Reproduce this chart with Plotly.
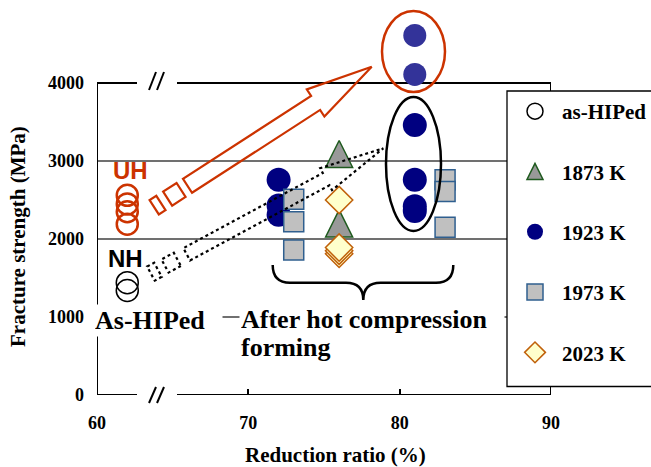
import plotly.graph_objects as go
import math

# ---------------- data ----------------
nh_x = [62, 62]
nh_y = [1440, 1340]
uh_x = [62, 62, 62, 62]
uh_y = [2560, 2450, 2350, 2190]
k1873_x = [76, 76]
k1873_y = [3090, 2200]
k1923_x = [72, 72, 72, 81, 81, 81, 81]
k1923_y = [2760, 2430, 2310, 3460, 2760, 2420, 2360]
k1923_top_x = [81, 81]
k1923_top_y = [4610, 4110]
k1973_x = [73, 73, 73, 83, 83, 83]
k1973_y = [2510, 2220, 1860, 2760, 2610, 2150]
k2023_x = [76, 76, 76, 76]
k2023_y = [1810, 1850, 1890, 2500]
x_ticks = [60, 70, 80, 90]
y_ticks = [0, 1000, 2000, 3000, 4000]
grid_y = [1000, 2000, 3000]
legend_names = ["as-HIPed", "1873 K", "1923 K", "1973 K", "2023 K"]

# ---------------- geometry helpers ----------------
# decoration positions are given in reference-picture pixels
W, H = 651, 467
RX0, RX1 = 97, 551      # plot area x (px)
RY_TOP, RY0 = 5, 395    # plot area y (px)
ML = RX0
MR = W - RX1
MT = RY_TOP
MB = H - RY0
XR = [60, 90]
YR = [0, (RY0 - RY_TOP) / 78.0 * 1000]

SERIF = "Liberation Serif, Times New Roman, serif"
SANS = "Liberation Sans, Arial, sans-serif"
ORANGE = "#CC3300"


def pp(px, py):
    return ((px - RX0) / (RX1 - RX0), (RY0 - py) / (RY0 - RY_TOP))


def dx(px):
    return XR[0] + (px - RX0) / (RX1 - RX0) * (XR[1] - XR[0])


def path_from_px(points, close=True):
    parts = []
    for i, (a, b) in enumerate(points):
        x, y = pp(a, b)
        parts.append(("M" if i == 0 else "L") + f"{x:.5f},{y:.5f}")
    return " ".join(parts) + (" Z" if close else "")


def block_arrow(S, T, w, head_len, W_):
    vx, vy = T[0] - S[0], T[1] - S[1]
    L = math.hypot(vx, vy)
    ux, uy = vx / L, vy / L
    nx, ny = -uy, ux
    Bx, By = T[0] - head_len * ux, T[1] - head_len * uy
    pts = [
        (S[0] + w * nx, S[1] + w * ny),
        (Bx + w * nx, By + w * ny),
        (Bx + W_ * nx, By + W_ * ny),
        T,
        (Bx - W_ * nx, By - W_ * ny),
        (Bx - w * nx, By - w * ny),
        (S[0] - w * nx, S[1] - w * ny),
    ]
    return pts, (ux, uy), (nx, ny)


def rect_along(T, u, n, d1, d2, hw):
    pts = []
    for d, s in [(d1, 1), (d2, 1), (d2, -1), (d1, -1)]:
        cx, cy = T[0] - d * u[0], T[1] - d * u[1]
        pts.append((cx + s * hw * n[0], cy + s * hw * n[1]))
    return pts


fig = go.Figure()

# ---------------- traces ----------------
TRI_FILL, TRI_LINE = "#999999", "#1E5A1E"
fig.add_trace(go.Scatter(
    x=nh_x, y=nh_y, mode="markers", name=legend_names[0], legendgroup="a",
    marker=dict(symbol="circle-open", size=22, color="black", line=dict(width=1.5))))
fig.add_trace(go.Scatter(
    x=uh_x, y=uh_y, mode="markers", showlegend=False,
    marker=dict(symbol="circle-open", size=21, color=ORANGE, line=dict(width=2.5))))
# 1873 K triangles (upward, centred) in the plot
fig.add_trace(go.Scatter(
    x=k1873_x, y=k1873_y, mode="markers", showlegend=False, legendgroup="b",
    marker=dict(symbol="arrow-down", angle=180, standoff=13.5, size=27, color=TRI_FILL,
                line=dict(width=1.5, color=TRI_LINE))))
# same series on a hidden axis pair so that only its legend symbol shows
fig.add_trace(go.Scatter(
    x=k1873_x, y=k1873_y, mode="markers", name=legend_names[1], legendgroup="b",
    xaxis="x2", yaxis="y2", hoverinfo="skip",
    marker=dict(symbol="arrow-up", standoff=8, size=16, color=TRI_FILL,
                line=dict(width=1.5, color=TRI_LINE))))
fig.add_trace(go.Scatter(
    x=k1923_x, y=k1923_y, mode="markers", name=legend_names[2], legendgroup="c",
    marker=dict(symbol="circle", size=24, color="#000080", line=dict(width=0))))
fig.add_trace(go.Scatter(
    x=k1923_top_x, y=k1923_top_y, mode="markers", showlegend=False,
    marker=dict(symbol="circle", size=23, color="#333399", line=dict(width=0))))
fig.add_trace(go.Scatter(
    x=k1973_x, y=k1973_y, mode="markers", name=legend_names[3], legendgroup="d",
    marker=dict(symbol="square", size=20, color="#C0C0C0", line=dict(width=1.5, color="#2F5F8F"))))
fig.add_trace(go.Scatter(
    x=k2023_x, y=k2023_y, mode="markers", name=legend_names[4], legendgroup="e",
    marker=dict(symbol="diamond", size=21, color="#FFFFCC", line=dict(width=1.5, color="#C0600A"))))

shapes = []
# gridlines
for gy in grid_y:
    shapes.append(dict(type="line", xref="x", yref="y", x0=XR[0], x1=XR[1], y0=gy, y1=gy,
                       line=dict(color="#404040", width=1.3), layer="below"))
# frame with breaks
FR = dict(color="black", width=2)
shapes.append(dict(type="line", xref="x", yref="y", x0=60, x1=60, y0=0, y1=4000, line=FR, layer="below"))
shapes.append(dict(type="line", xref="x", yref="y", x0=90, x1=90, y0=0, y1=4000, line=FR, layer="below"))
for yy in (0, 4000):
    shapes.append(dict(type="line", xref="x", yref="y", x0=60, x1=dx(137), y0=yy, y1=yy, line=FR, layer="below"))
    shapes.append(dict(type="line", xref="x", yref="y", x0=dx(177), x1=90, y0=yy, y1=yy, line=FR, layer="below"))
# break slashes
for (ytop, ybot) in [(72, 90), (387, 403)]:
    for xo in (149, 157):
        a = pp(xo, ybot)
        b = pp(xo + 7, ytop)
        shapes.append(dict(type="line", xref="paper", yref="paper", x0=a[0], y0=a[1], x1=b[0], y1=b[1],
                           line=dict(color="black", width=2)))

# orange block arrow
T1 = (371.7, 66.7)
S1 = (187.5, 185.8)
pts, u, n = block_arrow(S1, T1, 8.3, 66.8, 16.2)
OL = dict(color=ORANGE, width=2.2)
shapes.append(dict(type="path", xref="paper", yref="paper", path=path_from_px(pts), line=OL, layer="above"))
shapes.append(dict(type="path", xref="paper", yref="paper", path=path_from_px(rect_along(T1, u, n, 227, 243, 8.3)), line=OL, layer="above"))
shapes.append(dict(type="path", xref="paper", yref="paper", path=path_from_px(rect_along(T1, u, n, 251, 259, 8.5)), line=OL, layer="above"))

# dotted block arrow
T2 = (383.3, 148.3)
S2 = (186.7, 254.3)
pts, u, n = block_arrow(S2, T2, 7.0, 65, 12.5)
DL = dict(color="black", width=2.2, dash="dot")
shapes.append(dict(type="path", xref="paper", yref="paper", path=path_from_px(pts), line=DL, layer="above"))
shapes.append(dict(type="path", xref="paper", yref="paper", path=path_from_px(rect_along(T2, u, n, 234, 248, 7.5)), line=DL, layer="above"))
shapes.append(dict(type="path", xref="paper", yref="paper", path=path_from_px(rect_along(T2, u, n, 256, 264, 8)), line=DL, layer="above"))

# ellipses
e1a, e1b = pp(382, 92), pp(445, 11)
shapes.append(dict(type="circle", xref="paper", yref="paper", x0=e1a[0], y0=e1a[1], x1=e1b[0], y1=e1b[1],
                   line=dict(color=ORANGE, width=2.5), layer="above"))
e2a, e2b = pp(386, 231), pp(441, 97)
shapes.append(dict(type="circle", xref="paper", yref="paper", x0=e2a[0], y0=e2a[1], x1=e2b[0], y1=e2b[1],
                   line=dict(color="black", width=2.5), layer="above"))

# brace
def P(a, b):
    x, y = pp(a, b)
    return f"{x:.5f},{y:.5f}"

brace = (f"M{P(272.7,265)} Q{P(272.7,282.7)} {P(290,282.7)} L{P(346,282.7)} "
         f"Q{P(363.3,282.7)} {P(363.3,300)} Q{P(363.3,282.7)} {P(380.6,282.7)} "
         f"L{P(436,282.7)} Q{P(453.3,282.7)} {P(453.3,265)}")
shapes.append(dict(type="path", xref="paper", yref="paper", path=brace,
                   line=dict(color="black", width=2.5), layer="above"))

# legend box
lb0, lb1 = pp(507, 386.5), pp(662, 91)
shapes.append(dict(type="rect", xref="paper", yref="paper", x0=lb0[0], y0=lb0[1], x1=lb1[0], y1=lb1[1],
                   fillcolor="white", line=dict(color="black", width=1.3), layer="above"))

# ---------------- annotations ----------------
ann = []

def add_text(text, px, py, size, family=SERIF, color="black", xanchor="center", bg=None, width=None,
             angle=0, align="center"):
    x, y = pp(px, py)
    d = dict(text=text, x=x, y=y, xref="paper", yref="paper", showarrow=False,
             font=dict(family=family, size=size, color=color, weight="bold"),
             xanchor=xanchor, yanchor="middle", textangle=angle, align=align, borderpad=1)
    if bg:
        d["bgcolor"] = bg
    if width:
        d["width"] = width
    ann.append(d)

add_text("UH", 130.5, 170, 24, family=SANS, color=ORANGE)
add_text("NH", 125.8, 258.5, 24, family=SANS)
add_text("As-HIPed", 93, 320, 26, xanchor="left", bg="white", width=126, align="left")
add_text("After hot compression", 239, 319, 26, xanchor="left", bg="white", width=262, align="left")
add_text("forming", 239, 347, 26, xanchor="left", align="left")
add_text("Reduction ratio (%)", 335, 455, 21)
add_text("Fracture strength (MPa)", 18, 237, 21, angle=-90)

lx, ly = pp(508, 91)

fig.update_layout(
    width=W, height=H,
    margin=dict(l=ML, r=MR, t=MT, b=MB, pad=0, autoexpand=False),
    plot_bgcolor="white", paper_bgcolor="white",
    font=dict(family=SERIF, size=18, color="black"),
    xaxis=dict(range=XR, tickvals=x_ticks, showgrid=False, zeroline=False, showline=False,
               ticks="inside", ticklen=6, tickwidth=1.5, tickcolor="black", automargin=False,
               tickfont=dict(family=SERIF, size=18, weight="bold"), ticklabelstandoff=15),
    yaxis=dict(range=YR, tickvals=y_ticks, showgrid=False, zeroline=False, showline=False,
               ticks="", automargin=False,
               tickfont=dict(family=SERIF, size=18, weight="bold"), ticklabelstandoff=12),
    xaxis2=dict(overlaying="x", range=[0, 1], visible=False),
    yaxis2=dict(overlaying="y", range=[0, 1], visible=False),
    legend=dict(x=lx, y=ly, xanchor="left", yanchor="top", bgcolor="rgba(0,0,0,0)",
                borderwidth=0, traceorder="grouped", tracegroupgap=30, itemwidth=44,
                font=dict(family=SERIF, size=21, weight="bold")),
    shapes=shapes,
    annotations=ann,
    showlegend=True,
)

fig.write_html("out.html", config={"displayModeBar": False},
               post_script="document.body.style.margin='0px';")
